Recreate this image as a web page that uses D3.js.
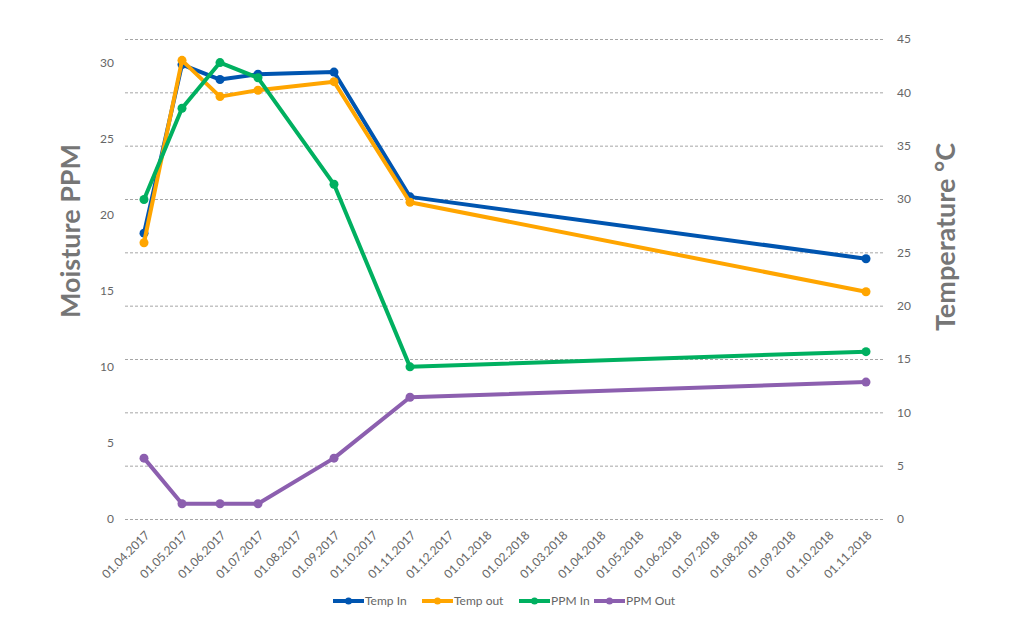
<!DOCTYPE html>
<head>
  <meta charset="utf-8">
  <title>Moisture and temperature</title>
  <script src="https://d3js.org/d3.v7.min.js"></script>
  <style>
    body { margin:0; background:#fff; }
    svg { display:block; }
    text { font-family: Lato, "Open Sans", sans-serif; }
  </style>
</head>
<body>
  <svg width="1011" height="621"></svg>
  <script>
    // month labels on the x axis
    var months = ['01.04.2017','01.05.2017','01.06.2017','01.07.2017','01.08.2017','01.09.2017',
      '01.10.2017','01.11.2017','01.12.2017','01.01.2018','01.02.2018','01.03.2018','01.04.2018',
      '01.05.2018','01.06.2018','01.07.2018','01.08.2018','01.09.2018','01.10.2018','01.11.2018'];
    // measurement dates
    var dates = ['01.04.2017','01.05.2017','01.06.2017','01.07.2017','01.09.2017','01.11.2017','01.11.2018'];
    // temperatures (right axis)
    var tempIn  = [26.8, 42.6, 41.2, 41.7, 41.9, 30.2, 24.4];
    var tempOut = [25.9, 43.0, 39.6, 40.2, 41.0, 29.7, 21.3];
    // moisture (left axis)
    var ppmIn  = [21, 27, 30, 29, 22, 10, 11];
    var ppmOut = [4, 1, 1, 1, 4, 8, 9];

    var leftTicks = [0, 5, 10, 15, 20, 25, 30];
    var rightTicks = [0, 5, 10, 15, 20, 25, 30, 35, 40, 45];

    var series = [
      {name: 'Temp In', values: tempIn, axis: 'right', color: '#0055b0'},
      {name: 'Temp out', values: tempOut, axis: 'right', color: '#ffa500'},
      {name: 'PPM In', values: ppmIn, axis: 'left', color: '#00b060'},
      {name: 'PPM Out', values: ppmOut, axis: 'left', color: '#8c5faf'}
    ];

    var plot = {left: 125, right: 885, top: 39, bottom: 519};
    var svg = d3.select('svg');

    var x = d3.scalePoint()
      .domain(months)
      .range([plot.left, plot.right])
      .padding(0.5);
    var yRight = d3.scaleLinear()
      .domain([0, 45])
      .range([plot.bottom, plot.top]);
    var yLeft = d3.scaleLinear()
      .domain([0, 31.55])
      .range([plot.bottom, plot.top]);

    // dashed gridlines follow the right axis
    svg.append('g')
      .selectAll('line')
      .data(rightTicks)
      .join('line')
      .attr('x1', plot.left).attr('x2', plot.right)
      .attr('y1', d => yRight(d) + 0.5).attr('y2', d => yRight(d) + 0.5)
      .attr('stroke', '#a6a6a6')
      .attr('stroke-dasharray', '3,2');

    var leftAxis = d3.axisLeft(yLeft).tickValues(leftTicks).tickSize(0).tickPadding(0);
    svg.append('g')
      .attr('transform', 'translate(' + [114, 0] + ')')
      .call(leftAxis)
      .call(g => g.select('.domain').remove())
      .selectAll('text')
      .attr('font-size', 12)
      .attr('font-family', 'Lato, sans-serif')
      .attr('fill', '#666');

    var rightAxis = d3.axisRight(yRight).tickValues(rightTicks).tickSize(0).tickPadding(0);
    svg.append('g')
      .attr('transform', 'translate(' + [897, 0] + ')')
      .call(rightAxis)
      .call(g => g.select('.domain').remove())
      .selectAll('text')
      .attr('font-size', 12)
      .attr('font-family', 'Lato, sans-serif')
      .attr('fill', '#666');

    var bottomAxis = d3.axisBottom(x).tickSize(0).tickPadding(0);
    svg.append('g')
      .attr('transform', 'translate(' + [0, plot.bottom] + ')')
      .call(bottomAxis)
      .call(g => g.select('.domain').remove())
      .selectAll('text')
      .attr('font-size', 12)
      .attr('font-family', 'Lato, sans-serif')
      .attr('fill', '#666')
      .attr('text-anchor', 'end')
      .attr('dy', '0.35em')
      .attr('transform', 'translate(3,14) rotate(-45)');

    // axis titles
    svg.append('text')
      .attr('transform', 'translate(80,231) rotate(-90)')
      .attr('text-anchor', 'middle')
      .attr('font-size', 27)
      .attr('font-weight', 'bold')
      .attr('fill', '#767676')
      .text('Moisture PPM');
    svg.append('text')
      .attr('transform', 'translate(955,237) rotate(-90)')
      .attr('text-anchor', 'middle')
      .attr('font-size', 27)
      .attr('font-weight', 'bold')
      .attr('fill', '#767676')
      .text('Temperature °C');

    // lines and markers
    series.forEach(s => {
      var y = s.axis === 'right' ? yRight : yLeft;
      var pts = dates.map((d, i) => ({date: d, v: s.values[i]}));
      var line = d3.line()
        .x(d => x(d.date))
        .y(d => y(d.v));
      var g = svg.append('g');
      g.append('path')
        .attr('d', line(pts))
        .attr('fill', 'none')
        .attr('stroke', s.color)
        .attr('stroke-width', 4)
        .attr('stroke-linejoin', 'round');
      g.selectAll('circle')
        .data(pts)
        .join('circle')
        .attr('cx', d => x(d.date))
        .attr('cy', d => y(d.v))
        .attr('r', 4.5)
        .attr('fill', s.color);
    });

    // legend
    var legendX = [333, 422, 519, 594];
    var legend = svg.append('g').attr('transform', 'translate(0,601)');
    series.forEach((s, i) => {
      var lg = legend.append('g').attr('transform', 'translate(' + legendX[i] + ',0)');
      lg.append('line')
        .attr('x1', 0).attr('x2', 31)
        .attr('stroke', s.color).attr('stroke-width', 4);
      lg.append('circle')
        .attr('cx', 15.5).attr('r', 3.5).attr('fill', s.color);
      lg.append('text')
        .attr('x', 32).attr('dy', '0.35em')
        .attr('font-size', 12)
        .attr('fill', '#666')
        .text(s.name);
    });
  </script>
</body>
